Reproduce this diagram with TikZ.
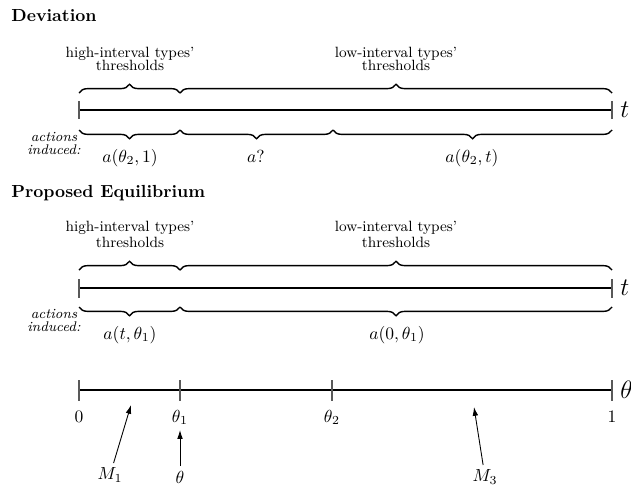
\documentclass[tikz,border=0pt]{standalone}
\usetikzlibrary{decorations.pathreplacing,arrows.meta}
\begin{document}
\begin{tikzpicture}[x=0.5714pt,y=0.5714pt,
  axis/.style={line width=1pt},
  tickmark/.style={line width=0.6pt, black!65},
  bracedeco/.style={decorate,decoration={brace,amplitude=5pt},line width=0.8pt},
  lab/.style={font=\fontsize{8.5}{10}\selectfont, inner sep=0pt, anchor=base},
  act/.style={font=\fontsize{8}{7}\selectfont\itshape, inner sep=0pt, anchor=base, align=center},
  mlab/.style={inner sep=0pt, anchor=base},
  ttl/.style={font=\bfseries, inner sep=0pt, anchor=base west},
  big/.style={font=\Large, inner sep=0pt, anchor=west},
  ptr/.style={-{Latex[length=5pt,width=3.2pt]}, line width=0.5pt, shorten <=1pt}]
\useasboundingbox (0,0) rectangle (631,-487);

% ---------------- Deviation ----------------
\node[ttl] (devtitle) at (11,-21) {Deviation};
\coordinate (dA) at (79,-110);
\coordinate (dB) at (612,-110);
\draw[axis] (dA) -- (dB);
\draw[tickmark] (79,-101) -- (79,-119);
\draw[tickmark] (612,-101) -- (612,-119);
\node[big] (dt) at (620,-110) {$t$};

\coordinate (du0) at (79,-93);  \coordinate (du1) at (180,-93); \coordinate (du2) at (612,-93);
\draw[bracedeco] (du0) -- (du1);
\draw[bracedeco] (du1) -- (du2);
\coordinate (dl0) at (79,-130); \coordinate (dl1) at (180,-130);
\coordinate (dl2) at (333,-130); \coordinate (dl3) at (612,-130);
\draw[bracedeco] (dl1) -- (dl0);
\draw[bracedeco] (dl2) -- (dl1);
\draw[bracedeco] (dl3) -- (dl2);

\node[lab] (dh1) at (130,-57) {high-interval types’};
\node[lab] (dh2) at (130,-70) {thresholds};
\node[lab] (dlo1) at (396,-57) {low-interval types’};
\node[lab] (dlo2) at (396,-70) {thresholds};

\node[act] (dact) at (54,-154) {actions\\induced:};
\node[mlab] (da1) at (130,-162) {$a(\theta_2,1)$};
\node[mlab] (da2) at (256,-162) {$a?$};
\node[mlab] (da3) at (472,-162) {$a(\theta_2,t)$};

% ---------------- Proposed Equilibrium ----------------
\node[ttl] (eqtitle) at (11,-197) {Proposed Equilibrium};
\coordinate (eA) at (79,-288);
\coordinate (eB) at (612,-288);
\draw[axis] (eA) -- (eB);
\draw[tickmark] (79,-279) -- (79,-298);
\draw[tickmark] (612,-279) -- (612,-298);
\node[big] (et) at (620,-288) {$t$};

\coordinate (eu0) at (79,-270);  \coordinate (eu1) at (180,-270); \coordinate (eu2) at (612,-270);
\draw[bracedeco] (eu0) -- (eu1);
\draw[bracedeco] (eu1) -- (eu2);
\coordinate (el0) at (79,-307); \coordinate (el1) at (180,-307); \coordinate (el2) at (612,-307);
\draw[bracedeco] (el1) -- (el0);
\draw[bracedeco] (el2) -- (el1);

\node[lab] (eh1) at (130,-231) {high-interval types’};
\node[lab] (eh2) at (130,-247) {thresholds};
\node[lab] (elo1) at (396,-231) {low-interval types’};
\node[lab] (elo2) at (396,-247) {thresholds};

\node[act] (eact) at (54,-331) {actions\\induced:};
\node[mlab] (ea1) at (130,-339) {$a(t,\theta_1)$};
\node[mlab] (ea2) at (397,-339) {$a(0,\theta_1)$};

% ---------------- theta line ----------------
\coordinate (tA) at (79,-390);
\coordinate (tB) at (612,-390);
\draw[axis] (tA) -- (tB);
\foreach \xx in {79,180,332,612} \draw[tickmark] (\xx,-380) -- (\xx,-401);
\node[big] (tth) at (620,-390) {$\theta$};
\node[mlab] (l0) at (79,-422) {$0$};
\node[mlab] (l1) at (180,-422) {$\theta_1$};
\node[mlab] (l2) at (332,-422) {$\theta_2$};
\node[mlab] (l3) at (612,-422) {$1$};

\node[inner sep=1.5pt] (M1) at (110,-475) {$M_1$};
\node[inner sep=1.5pt] (th) at (180,-477) {$\theta$};
\node[inner sep=1.5pt] (M3) at (485,-477) {$M_3$};
\coordinate (m1tip) at (131,-405);
\coordinate (thtip) at (180,-430);
\coordinate (m3tip) at (474,-407);
\draw[ptr] (M1) -- (m1tip);
\draw[ptr] (th) -- (thtip);
\draw[ptr] (M3) -- (m3tip);
\end{tikzpicture}
\end{document}
